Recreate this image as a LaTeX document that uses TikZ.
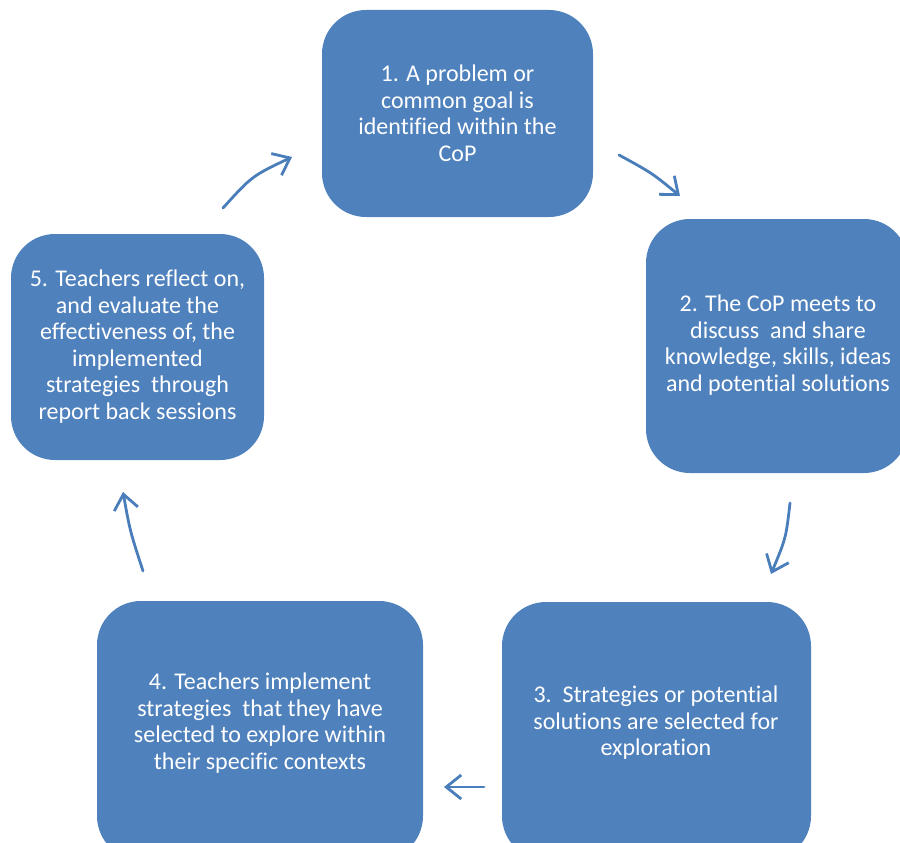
\documentclass[tikz,border=0pt]{standalone}
\usepackage{fontspec}
\setmainfont{Carlito}[Ligatures=CommonOff]
\usetikzlibrary{arrows.meta}
\definecolor{cycleblue}{HTML}{4F81BD}
\definecolor{arrowblue}{HTML}{4A7EBB}
\begin{document}
\begin{tikzpicture}[x=1pt,y=-1pt,
  stagebox/.style={fill=cycleblue, draw=none, rounded corners=44pt},
  stagetext/.style={text=white, align=center, font=\fontsize{24}{26.5}\selectfont, inner sep=0pt},
  cyclearrow/.style={draw=arrowblue, line width=2.8pt, line cap=round,
    -{Straight Barb[length=15pt,width=24pt,line width=2.8pt]}}]
\useasboundingbox (0,0) rectangle (900,843);
\clip (0,0) rectangle (900,843);

% stage boxes
\fill[stagebox] (322,10) rectangle (593,217);
\fill[stagebox] (646,219) rectangle (908,473);
\fill[stagebox] (502,602) rectangle (811,860);
\fill[stagebox] (97,601) rectangle (423,860);
\fill[stagebox] (11,234) rectangle (264,460);

% stage texts
\node[stagetext] (s1) at (457.5,113) {1. A problem or\\common goal is\\identified within the\\CoP};
\node[stagetext] (s2) at (778,345) {2. The CoP meets to\\discuss\ \ and share\\knowledge, skills, ideas\\and potential solutions};
\node[stagetext] (s3) at (656,723) {3.\ \ Strategies or potential\\solutions are selected for\\exploration};
\node[stagetext] (s4) at (260,723) {4. Teachers implement\\strategies\ \ that they have\\selected to explore within\\their specific contexts};
\node[stagetext] (s5) at (137.5,346.5) {5. Teachers reflect on,\\and evaluate the\\effectiveness of, the\\implemented\\strategies\ \ through\\report back sessions};

% arrow end points
\coordinate (a1s) at (223,208); \coordinate (a1e) at (292,157);
\coordinate (a2s) at (619,155); \coordinate (a2e) at (680,196);
\coordinate (a3s) at (790,503); \coordinate (a3e) at (771,574);
\coordinate (a4s) at (484,787); \coordinate (a4e) at (444,787);
\coordinate (a5s) at (143,571); \coordinate (a5e) at (123,492);

% connectors between stages
\draw[cyclearrow] (a1s) .. controls (252,176) .. (a1e);
\draw[cyclearrow] (a2s) .. controls (652,173) .. (a2e);
\draw[cyclearrow] (a3s) .. controls (786,538) .. (a3e);
\draw[cyclearrow] (a4s) -- (a4e);
\draw[cyclearrow] (a5s) .. controls (130,531) .. (a5e);
\end{tikzpicture}
\end{document}
